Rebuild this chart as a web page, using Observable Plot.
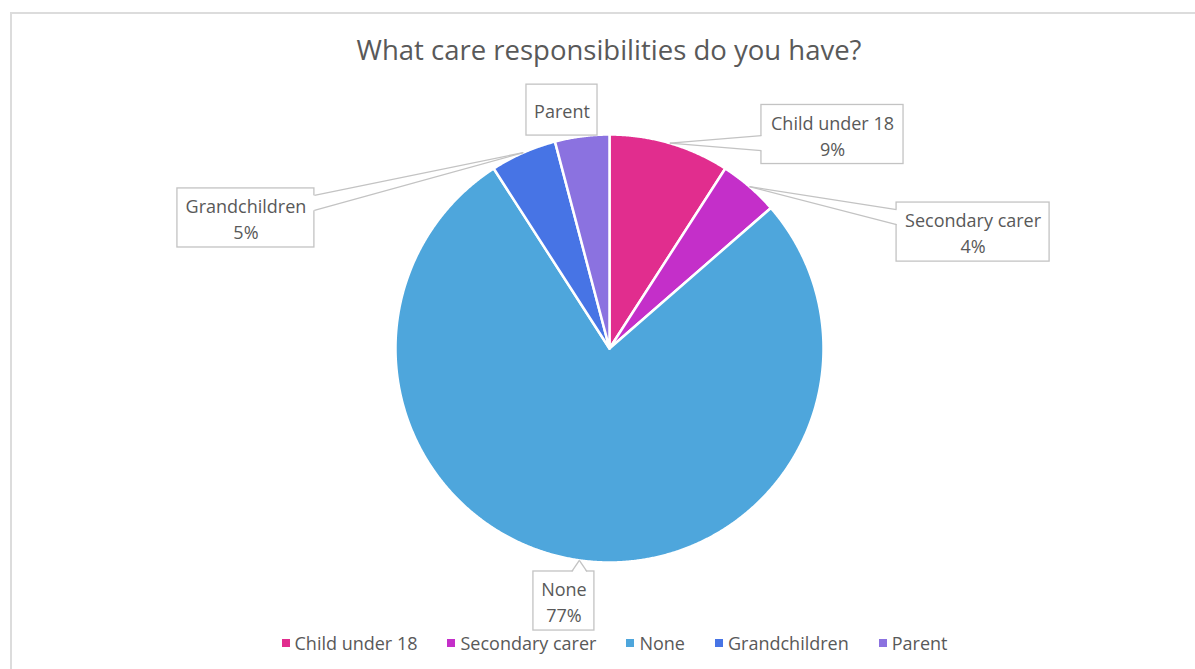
<!DOCTYPE html>
<html><head><meta charset="utf-8">
<script src="https://cdn.jsdelivr.net/npm/d3@7"></script>
<script src="https://cdn.jsdelivr.net/npm/@observablehq/plot@0.6"></script>
<style>
body{margin:0;background:#fff;font-family:"Open Sans",sans-serif;}
#wrap{position:relative;width:1195px;height:669px;overflow:hidden;background:#fff;}
#frame{position:absolute;left:10px;top:12px;width:1400px;height:900px;border-top:2px solid #dcdcdc;border-left:2px solid #dcdcdc;}
#title{position:absolute;top:31px;left:0;width:1218px;text-align:center;font-size:27.5px;color:#595959;line-height:38px;}
#chart{position:absolute;left:0;top:0;}
#legend{position:absolute;top:630px;left:0;width:1229px;display:flex;justify-content:center;gap:30px;font-size:18px;color:#595959;line-height:26px;}
#legend .item{display:flex;align-items:center;gap:5px;}
#legend .sw{width:8px;height:8px;display:inline-block;}
</style></head><body>
<div id="wrap"><div id="frame"></div><div id="title">What care responsibilities do you have?</div><div id="chart"></div><div id="legend"></div></div>
<script>
const categories = ["Child under 18","Secondary carer","None","Grandchildren","Parent"];
const shares = [9.1, 4.5, 77.3, 5.0, 4.1];
const labelText = ["Child under 18\n9%","Secondary carer\n4%","None\n77%","Grandchildren\n5%","Parent"];
const colors = ["#E12D8E","#C42FC9","#4EA6DC","#4774E5","#8B72E0"];
// label box layout, in units of the pie radius
const labelBoxes = [
  {cx:1.042, cy:1.000, w:0.664, h:0.276, side:"left"},
  {cx:1.699, cy:0.544, w:0.715, h:0.276, side:"left"},
  {cx:-0.213, cy:-1.180, w:0.285, h:0.276, side:"top"},
  {cx:-1.699, cy:0.610, w:0.640, h:0.276, side:"right"},
  {cx:-0.222, cy:1.114, w:0.332, h:0.238, side:null}
];

const arcs = d3.pie().sort(null).value(d => d)(shares);
const slicePts = [];
arcs.forEach((a, i) => {
  const cat = categories[i];
  slicePts.push({cat, x: 0, y: 0});
  const n = Math.max(2, Math.ceil((a.endAngle - a.startAngle) / 0.005));
  for (let k = 0; k <= n; k++) {
    const t = a.startAngle + (a.endAngle - a.startAngle) * k / n;
    slicePts.push({cat, x: Math.sin(t), y: Math.cos(t)});
  }
});

const half = 7.5 / 214, pad = 7 / 214, inset = 1.5 / 214;
const boxes = [], covers = [], links = [], texts = [];
arcs.forEach((a, i) => {
  const b = labelBoxes[i];
  const m = (a.startAngle + a.endAngle) / 2;
  const ax = Math.sin(m), ay = Math.cos(m);
  boxes.push({x1: b.cx - b.w/2, x2: b.cx + b.w/2, y1: b.cy - b.h/2, y2: b.cy + b.h/2});
  texts.push({x: b.cx, y: b.cy, t: labelText[i]});
  if (!b.side) return;
  let p1, p2, q1, q2;
  if (b.side === "left" || b.side === "right") {
    const ex = b.side === "left" ? b.cx - b.w/2 : b.cx + b.w/2;
    const ins = b.side === "left" ? inset : -inset;
    const yc = Math.max(b.cy - b.h/2 + pad + half, Math.min(b.cy + b.h/2 - pad - half, ay));
    p1 = [ex, yc + half]; p2 = [ex, yc - half];
    q1 = [ex + ins, yc + half]; q2 = [ex + ins, yc - half];
  } else {
    const ey = b.cy + b.h/2;
    const xc = Math.max(b.cx - b.w/2 + pad + half, Math.min(b.cx + b.w/2 - pad - half, ax));
    p1 = [xc - half, ey]; p2 = [xc + half, ey];
    q1 = [xc - half, ey - inset]; q2 = [xc + half, ey - inset];
  }
  covers.push({id: i, x: ax, y: ay}, {id: i, x: q1[0], y: q1[1]}, {id: i, x: q2[0], y: q2[1]});
  links.push({x1: ax, y1: ay, x2: p1[0], y2: p1[1]}, {x1: ax, y1: ay, x2: p2[0], y2: p2[1]});
});

const chart = Plot.plot({
  width: 1195, height: 669,
  marginLeft: 395, marginRight: 372, marginTop: 134, marginBottom: 107,
  x: {domain: [-1, 1], axis: null},
  y: {domain: [-1, 1], axis: null},
  color: {domain: categories, range: colors},
  style: {background: "transparent", fontFamily: "Open Sans"},
  marks: [
    Plot.line(slicePts, {x: "x", y: "y", z: "cat", fill: "cat", stroke: "white", strokeWidth: 2.5, strokeLinejoin: "round", curve: "linear-closed"}),
    Plot.rect(boxes, {x1: "x1", x2: "x2", y1: "y1", y2: "y2", fill: "white", stroke: "#c3c3c3", strokeWidth: 1.3}),
    Plot.line(covers, {x: "x", y: "y", z: "id", fill: "white", stroke: "none", curve: "linear-closed"}),
    Plot.link(links, {x1: "x1", y1: "y1", x2: "x2", y2: "y2", stroke: "#c3c3c3", strokeWidth: 1.3}),
    Plot.text(texts, {x: "x", y: "y", text: "t", fontSize: 18, fill: "#595959", lineHeight: 1.45, fontFamily: "Open Sans"})
  ]
});
document.getElementById("chart").appendChild(chart);

const legend = d3.select("#legend");
categories.forEach((c, i) => {
  const it = legend.append("div").attr("class", "item");
  it.append("span").attr("class", "sw").style("background", colors[i]);
  it.append("span").text(c);
});
</script>
</body></html>
